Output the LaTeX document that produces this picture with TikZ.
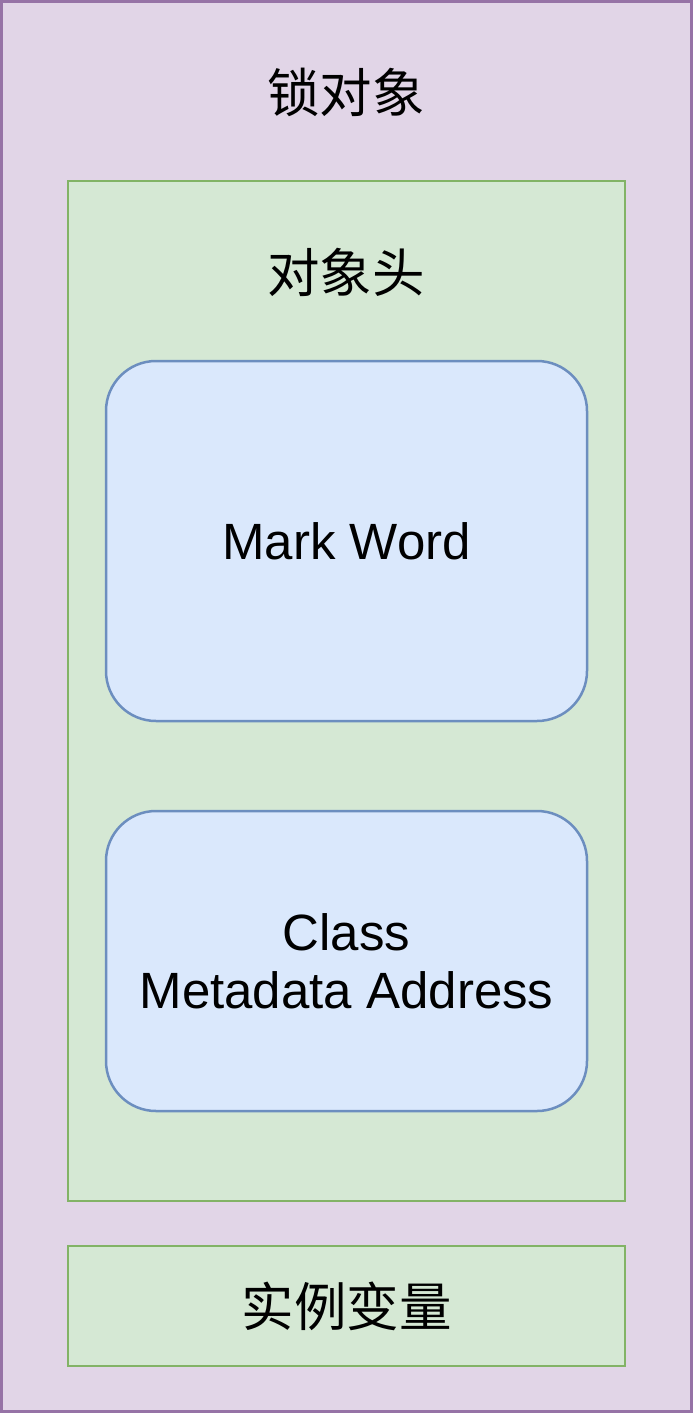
\documentclass[tikz,border=0pt]{standalone}
\usepackage{fontspec}
\setmainfont{Liberation Sans}
\newfontfamily\cjk{Noto Sans CJK SC}
\usetikzlibrary{positioning}
\definecolor{lockfill}{HTML}{E1D5E7}
\definecolor{lockline}{HTML}{9673A6}
\definecolor{partfill}{HTML}{D5E8D4}
\definecolor{partline}{HTML}{82B366}
\definecolor{wordfill}{HTML}{DAE8FC}
\definecolor{wordline}{HTML}{6C8EBF}

\begin{document}
\begin{tikzpicture}[x=1pt, y=-1pt,
  lockbox/.style={draw=lockline, fill=lockfill, line width=2.5pt, inner sep=0pt,
    minimum width=690pt, minimum height=1410pt},
  partbox/.style={draw=partline, fill=partfill, line width=2.5pt, inner sep=0pt,
    minimum width=557pt},
  wordbox/.style={draw=wordline, fill=wordfill, line width=2.5pt, inner sep=0pt,
    rounded corners=50pt, minimum width=481pt, align=center,
    font=\fontsize{51}{58}\selectfont},
  title/.style={inner sep=0pt, font=\cjk\fontsize{52.5}{58}\selectfont}]
\useasboundingbox (0,0) rectangle (693,1413);
\node[lockbox] (lock) at (346.5,706.5) {};
\node[title] (locklab) at (346,92) {锁对象};
\node[partbox, minimum height=1020pt] (head) at (346.5,691) {};
\node[title] (headlab) at (346,272) {对象头};
\node[wordbox, minimum height=360pt] (mark) at (346.5,541) {Mark Word};
\node[wordbox, minimum height=300pt] (klass) at (346.5,961) {Class\\Metadata Address};
\node[partbox, minimum height=120pt, font=\cjk\fontsize{52.5}{58}\selectfont]
  (fields) at (346.5,1306) {实例变量};
\end{tikzpicture}
\end{document}
